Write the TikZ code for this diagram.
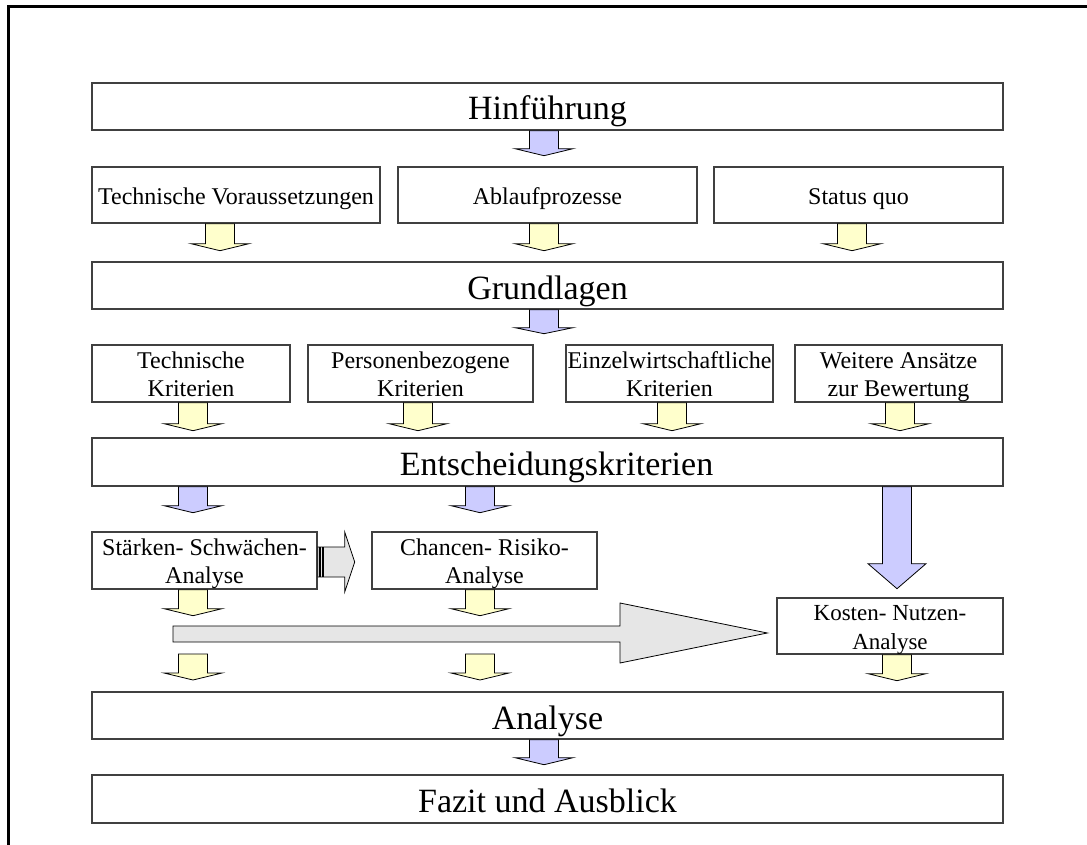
\documentclass[tikz,border=0pt]{standalone}
\usepackage{fontspec}
\setmainfont{Liberation Serif}
\usepackage{xcolor}
\definecolor{blkblue}{HTML}{CCCCFF}
\definecolor{blkyellow}{HTML}{FFFFCC}
\definecolor{blkgrey}{HTML}{E6E6E6}
\definecolor{boxline}{HTML}{404040}
\usetikzlibrary{calc}

% block arrow pointing down: fill, start, shaft length, head length
\newcommand{\downblk}[4]{%
  \draw[blk,fill=#1] (#2) ++(-14.5,0) -- ++(0,#3) -- ++(-14.5,0) -- ++(29,#4)
    -- ++(29,-#4) -- ++(-14.5,0) -- ++(0,-#3) -- cycle;}

\begin{document}
\begin{tikzpicture}[x=1pt,y=-1pt,
  box/.style={draw=boxline,line width=1.4pt,fill=white,inner sep=0pt,align=center,
    font=\fontsize{24}{28}\selectfont,text height=20pt,text depth=0pt},
  twobox/.style={box,minimum height=57pt,text height=46pt},
  widebox/.style={box,minimum width=911pt,minimum height=47pt,
    font=\fontsize{34}{38}\selectfont,text height=27pt},
  blk/.style={draw=black,line width=0.8pt}]
\useasboundingbox (0,0) rectangle (1087,845);
\draw[line width=2.7pt] (8.5,845) -- (8.5,6.5) -- (1087,6.5);

% levels
\node[widebox] (hin) at (547.5,106.5) {Hinführung};
\node[box,minimum width=288pt,minimum height=56pt] (tv) at (236,195) {Technische Voraussetzungen};
\node[box,minimum width=299pt,minimum height=56pt] (ab) at (547.5,195) {Ablaufprozesse};
\node[box,minimum width=289pt,minimum height=56pt] (sq) at (858.5,195) {Status quo};
\node[widebox] (grund) at (547.5,285.5) {Grundlagen};
\node[twobox,minimum width=198pt] (tk) at (191,373.5) {Technische\\Kriterien};
\node[twobox,minimum width=225pt] (pk) at (420.5,373.5) {Personenbezogene\\Kriterien};
\node[twobox,minimum width=207pt] (ek) at (669.5,373.5) {Einzelwirtschaftliche\\Kriterien};
\node[twobox,minimum width=207pt] (wa) at (898.5,373.5) {Weitere Ansätze\\zur Bewertung};
\node[widebox,minimum height=48pt] (ent) at (547.5,462) {\hspace*{18pt}Entscheidungskriterien};
\node[twobox,minimum width=225pt] (ssa) at (204.5,560.5) {Stärken- Schwächen-\\Analyse};
\node[twobox,minimum width=225pt] (cra) at (484.5,560.5) {Chancen- Risiko-\\Analyse};
\node[twobox,minimum width=226pt,minimum height=56pt,font=\fontsize{23}{29}\selectfont] (kna) at (890,626) {Kosten- Nutzen-\\Analyse};
\node[widebox] (ana) at (547.5,715.5) {Analyse};
\node[widebox,minimum height=48pt] (faz) at (547.5,799) {Fazit und Ausblick};

% arrows between levels
\downblk{blkblue}{$(hin.south)+(-3.5,0)$}{18}{7}
\downblk{blkyellow}{$(tv.south)+(-16,0)$}{20}{7}
\downblk{blkyellow}{$(ab.south)+(-3.5,0)$}{20}{7}
\downblk{blkyellow}{$(sq.south)+(-6.5,0)$}{20}{7}
\downblk{blkblue}{$(grund.south)+(-3.5,0)$}{18}{6}
\downblk{blkyellow}{$(tk.south)+(2,0)$}{21}{7}
\downblk{blkyellow}{$(pk.south)+(-2.5,0)$}{21}{7}
\downblk{blkyellow}{$(ek.south)+(2.5,0)$}{21}{7}
\downblk{blkyellow}{$(wa.south)+(1.5,0)$}{21}{7}
\downblk{blkblue}{$(ent.south)+(-354.5,0)$}{19}{7}
\downblk{blkblue}{$(ent.south)+(-67.5,0)$}{19}{7}
\downblk{blkblue}{$(ent.south)+(349.5,0)$}{77}{25}
\downblk{blkyellow}{$(ssa.south)+(-11.5,0)$}{19}{7}
\downblk{blkyellow}{$(cra.south)+(-4.5,0)$}{19}{7}
\downblk{blkyellow}{$(kna.south)+(7,0)$}{19}{7}

% striped arrow to Chancen- Risiko-Analyse
\draw[blk,fill=blkgrey] (ssa.east) ++(0,-13.5) -- ++(27,0) -- ++(0,-15) -- ++(10,30)
  -- ++(-10,30) -- ++(0,-15) -- ++(-27,0) -- cycle;
\draw[line width=1.6pt] ($(ssa.east)+(2,-13.5)$) -- ++(0,30);
\draw[line width=1.6pt] ($(ssa.east)+(5,-13.5)$) -- ++(0,30);

% wide arrow to Kosten- Nutzen-Analyse
\coordinate (wa0) at (173,634);
\draw[blk,fill=blkgrey] (wa0) ++(0,-8) -- ++(447,0) -- ++(0,-23) -- ($(kna.west)+(-9,7)$)
  -- (620,663) -- (620,642) -- (173,642) -- cycle;

% free arrows into Analyse
\coordinate (fa1) at (193,654);
\coordinate (fa2) at (480,654);
\downblk{blkyellow}{fa1}{19}{7}
\downblk{blkyellow}{fa2}{19}{7}
\downblk{blkblue}{$(ana.south)+(-3.5,0)$}{18}{7}
\end{tikzpicture}
\end{document}
